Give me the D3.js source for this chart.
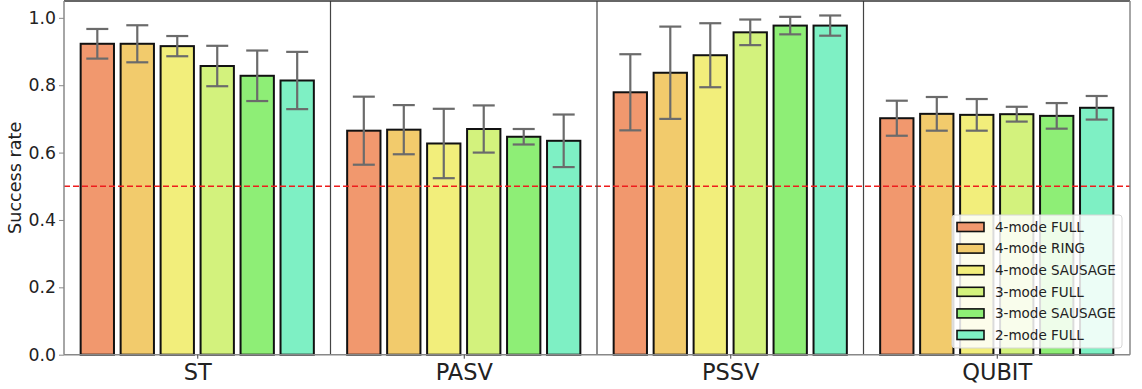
<!DOCTYPE html>
<html>
<head>
<meta charset="utf-8">
<script src="https://cdn.jsdelivr.net/npm/d3@7"></script>
<style>
  body { margin: 0; background: #fff; }
  text { font-family: "DejaVu Sans", sans-serif; fill: #222; }
</style>
</head>
<body>
<svg id="chart" width="1142" height="389"></svg>
<script>

const groups = ['ST', 'PASV', 'PSSV', 'QUBIT'];
const series = ['4-mode FULL', '4-mode RING', '4-mode SAUSAGE', '3-mode FULL', '3-mode SAUSAGE', '2-mode FULL'];
const colors = ['#f1986e', '#f2cb6c', '#f2ee7b', '#d3f27d', '#8eee76', '#7ef0c4'];

// success rate per series, one value per group (ST, PASV, PSSV, QUBIT)
const means = [
  [0.923, 0.665, 0.779, 0.702],
  [0.923, 0.668, 0.837, 0.715],
  [0.916, 0.627, 0.889, 0.712],
  [0.857, 0.670, 0.957, 0.714],
  [0.828, 0.647, 0.977, 0.709],
  [0.814, 0.635, 0.977, 0.733]
];
const errors = [
  [0.044, 0.101, 0.113, 0.052],
  [0.055, 0.073, 0.137, 0.050],
  [0.030, 0.103, 0.095, 0.047],
  [0.060, 0.070, 0.038, 0.022],
  [0.075, 0.023, 0.026, 0.038],
  [0.085, 0.078, 0.030, 0.035]
];
const yTicks = [0, 0.2, 0.4, 0.6, 0.8, 1.0];
const threshold = 0.5;

const svg = d3.select('#chart');
const mLeft = 64, mRight = 1130, mTop = 1, mBottom = 354.7;

const x = d3.scaleLinear().domain([-0.5, 3.5]).range([mLeft, mRight]);
const y = d3.scaleLinear().domain([0, 1.05]).range([mBottom, mTop]);

const step = 0.15, barW = 0.125;

// bars
series.forEach((s, k) => {
  const off = (k - (series.length - 1) / 2) * step;
  svg.append('g')
    .selectAll('rect')
    .data(means[k])
    .enter()
    .append('rect')
    .attr('x', (d, i) => x(i + off - barW / 2))
    .attr('y', d => y(d))
    .attr('width', x(barW) - x(0))
    .attr('height', d => y(0) - y(d))
    .attr('fill', colors[k])
    .attr('stroke', '#111')
    .attr('stroke-width', 2);
});

// error bars
series.forEach((s, k) => {
  const off = (k - (series.length - 1) / 2) * step;
  const g = svg.append('g').attr('stroke', '#6b6b6b').attr('stroke-width', 2.2);
  means[k].forEach((m, i) => {
    const cx = x(i + off);
    const e = errors[k][i];
    g.append('line').attr('x1', cx).attr('x2', cx).attr('y1', y(m - e)).attr('y2', y(m + e));
    g.append('line').attr('x1', cx - 11).attr('x2', cx + 11).attr('y1', y(m - e)).attr('y2', y(m - e));
    g.append('line').attr('x1', cx - 11).attr('x2', cx + 11).attr('y1', y(m + e)).attr('y2', y(m + e));
  });
});

// threshold line
svg.append('line')
  .attr('x1', mLeft).attr('x2', mRight)
  .attr('y1', y(threshold)).attr('y2', y(threshold))
  .attr('stroke', '#ee1c1c')
  .attr('stroke-width', 1.6)
  .attr('stroke-dasharray', '6,3');

// group separators
svg.append('g')
  .selectAll('line')
  .data([0.5, 1.5, 2.5])
  .enter()
  .append('line')
  .attr('x1', d => x(d)).attr('x2', d => x(d))
  .attr('y1', mTop).attr('y2', mBottom)
  .attr('stroke', '#444')
  .attr('stroke-width', 1.2);

// frame
svg.append('line').attr('x1', mLeft).attr('x2', mRight).attr('y1', mTop).attr('y2', mTop)
  .attr('stroke', '#333').attr('stroke-width', 1.5);
svg.append('line').attr('x1', mLeft).attr('x2', mLeft).attr('y1', mTop).attr('y2', mBottom)
  .attr('stroke', '#888').attr('stroke-width', 1.5);
svg.append('line').attr('x1', mRight).attr('x2', mRight).attr('y1', mTop).attr('y2', mBottom)
  .attr('stroke', '#888').attr('stroke-width', 1.5);
svg.append('line').attr('x1', mLeft).attr('x2', mRight).attr('y1', mBottom).attr('y2', mBottom)
  .attr('stroke', '#888').attr('stroke-width', 1.5);

// y axis
const yAxis = svg.append('g')
  .attr('transform', `translate(${mLeft},0)`)
  .call(d3.axisLeft(y).tickValues(yTicks).tickFormat(d3.format('.1f')).tickSize(5).tickPadding(3));
yAxis.select('.domain').remove();
yAxis.selectAll('line').attr('stroke', '#888');
yAxis.selectAll('text').style('font-size', '17.3px').style('font-family', 'DejaVu Sans').attr('fill', '#1a1a1a');

// x axis
const xAxis = svg.append('g')
  .attr('transform', `translate(0,${mBottom})`)
  .call(d3.axisBottom(x).tickValues([0, 1, 2, 3]).tickFormat(i => groups[i]).tickSize(4).tickPadding(5));
xAxis.select('.domain').remove();
xAxis.selectAll('line').attr('stroke', '#444');
xAxis.selectAll('text').style('font-size', '22.5px').style('font-family', 'DejaVu Sans').attr('fill', '#111');

svg.append('text')
  .attr('transform', `translate(21,${(mTop + mBottom) / 2}) rotate(-90)`)
  .attr('text-anchor', 'middle')
  .style('font-size', '17.6px')
  .attr('fill', '#1a1a1a')
  .text('Success rate');

// legend
const lg = svg.append('g').attr('transform', 'translate(952,215)');
lg.append('rect')
  .attr('width', 170).attr('height', 133).attr('rx', 3)
  .attr('fill', '#fff').attr('fill-opacity', 0.85)
  .attr('stroke', '#d6d6d6');
series.forEach((s, k) => {
  const row = lg.append('g').attr('transform', `translate(0,${12 + k * 21.6})`);
  row.append('rect')
    .attr('x', 5).attr('y', -4.5).attr('width', 27).attr('height', 9)
    .attr('fill', colors[k]).attr('stroke', '#111').attr('stroke-width', 1.6);
  row.append('text')
    .attr('x', 43).attr('y', 4.8)
    .style('font-size', '13.5px')
    .attr('fill', '#1a1a1a')
    .text(s);
});

</script>
</body>
</html>
